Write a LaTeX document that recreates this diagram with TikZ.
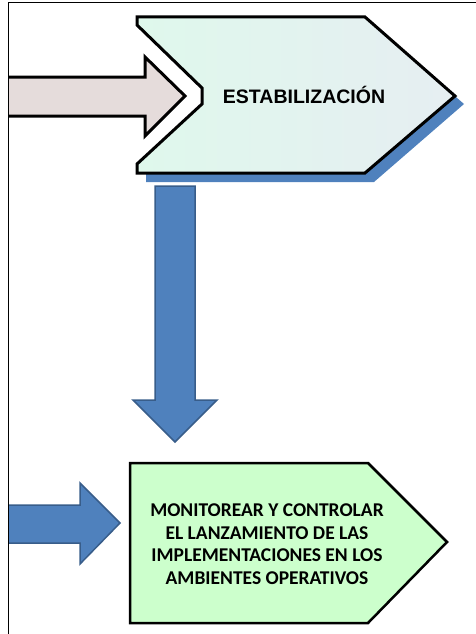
\documentclass[tikz,border=0pt]{standalone}
\usepackage{fontspec}
\newfontfamily\arialbf{Liberation Sans}[BoldFont={* Bold}]
\newfontfamily\calibri{Carlito}
\definecolor{blockblue}{HTML}{4F81BD}
\definecolor{blockedge}{HTML}{385D8A}
\definecolor{rosegray}{HTML}{E5DCDB}
\definecolor{mintA}{HTML}{DFF8EC}
\definecolor{mintB}{HTML}{E6EEF2}
\definecolor{palegreen}{HTML}{CCFFCC}

\begin{document}
\begin{tikzpicture}[x=1pt,y=-1pt,
   bluearrow/.style={fill=blockblue,draw=blockedge,line width=1.5pt,line join=miter},
   heavy/.style={draw=black,line width=3pt,line join=miter}]
   \useasboundingbox (0,0) rectangle (476,634);
   \fill[blockblue] (300,26) -- (374,26) -- (464,104) -- (374,182) -- (146,182)
      -- (146,170) -- (300,170) -- cycle;
   \draw[heavy,left color=mintA,right color=mintB]
      (137,17) -- (365,17) -- (455,96) -- (365,173) -- (137,173) -- (137,164)
      -- (202,104) -- (202,88) -- (137,25) -- cycle;
   \draw[heavy,fill=rosegray] (8,77) -- (145,77) -- (145,57) -- (185,96)
      -- (145,136) -- (145,116) -- (8,116);
   \draw[bluearrow] (155,186) -- (195,186) -- (195,400) -- (217,400) -- (175,442)
      -- (133,400) -- (155,400) -- cycle;
   \draw[line width=2.5pt,fill=palegreen,line join=miter]
      (130,463) -- (368,463) -- (447,542) -- (368,623) -- (130,623) -- cycle;
   \draw[bluearrow] (8,505) -- (80,505) -- (80,483) -- (120,523) -- (80,564)
      -- (80,543) -- (8,543);
   \draw[line width=1pt] (8,640) -- (8,3) -- (480,3);
   \node[font=\fontsize{19.5}{22}\arialbf\bfseries] (estab) at (304,95) {ESTABILIZACIÓN};
   \node[align=center,font=\fontsize{19.5}{22.5}\calibri\bfseries] (monitor) at (267,544)
      {MONITOREAR Y CONTROLAR\\ EL LANZAMIENTO DE LAS\\
       IMPLEMENTACIONES EN LOS\\ AMBIENTES OPERATIVOS};
\end{tikzpicture}
\end{document}
